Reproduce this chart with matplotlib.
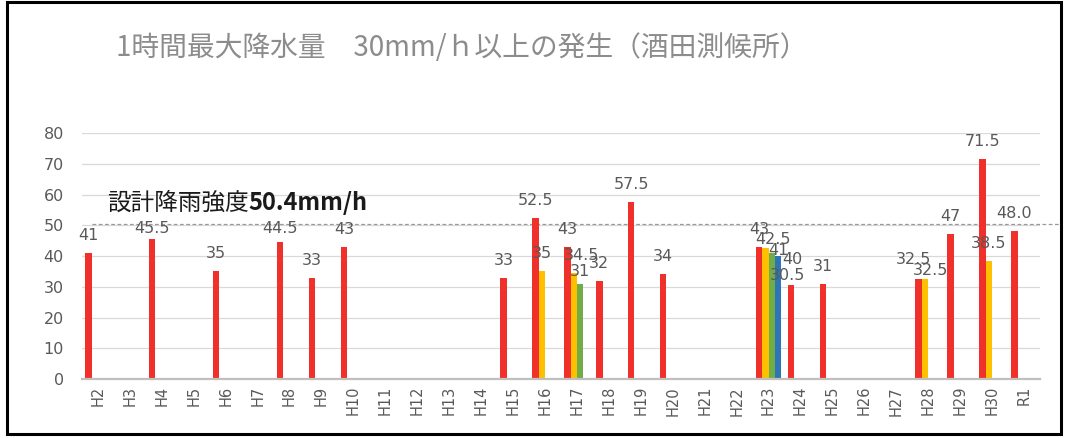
import numpy as np
import matplotlib
matplotlib.use("Agg")
import matplotlib.pyplot as plt
from matplotlib.patches import Rectangle
from matplotlib.transforms import blended_transform_factory, offset_copy

plt.rcParams['font.family'] = ['DejaVu Sans']
JP = ['Noto Sans CJK JP', 'DejaVu Sans']

# 年度 (平成2年〜令和元年)
categories = ['H%d' % i for i in range(2, 31)] + ['R1']

# 年度ごとの1時間最大降水量 (mm/h), 30mm/h以上の回のみ
rain_1st = {'H2': 41, 'H4': 45.5, 'H6': 35, 'H8': 44.5, 'H9': 33, 'H10': 43,
            'H15': 33, 'H16': 52.5, 'H17': 43, 'H18': 32, 'H19': 57.5, 'H20': 34,
            'H23': 43, 'H24': 30.5, 'H25': 31, 'H28': 32.5, 'H29': 47,
            'H30': 71.5, 'R1': 48.0}
rain_2nd = {'H16': 35, 'H17': 34.5, 'H23': 42.5, 'H28': 32.5, 'H30': 38.5}
rain_3rd = {'H17': 31, 'H23': 41}
rain_4th = {'H23': 40}

design_intensity = 50.4

series = [rain_1st, rain_2nd, rain_3rd, rain_4th]
colors = ['#F0302A', '#FFC000', '#70AD47', '#2E75B6']

# ラベルの手動微調整 (px)
label_nudge = {
    ('H4', 0): (0, -7), ('H8', 0): (0, -4),
    ('H17', 1): (8, 0), ('H17', 2): (0, -5),
    ('H23', 1): (8, -9), ('H23', 2): (7, -15), ('H23', 3): (14, -21),
    ('H24', 0): (-3, -8),
    ('H28', 0): (-5, 2), ('H28', 1): (5, -9),
}

fig = plt.figure(figsize=(10.68, 4.38), dpi=100)
ax = fig.add_axes([0.0768, 0.1347, 0.897, 0.5616])

x = np.arange(len(categories))
w = 0.2
for k, (data, c) in enumerate(zip(series, colors)):
    vals = np.array([data.get(cat, np.nan) for cat in categories], dtype=float)
    pos = x + (k - 1.5) * w
    ax.bar(pos, np.nan_to_num(vals), width=w, color=c, zorder=3)
    for cat, p, v in zip(categories, pos, vals):
        if np.isnan(v):
            continue
        txt = f"{v:.1f}" if cat == 'R1' else f"{v:g}"
        dx, dy = label_nudge.get((cat, k), (0, 0))
        tr = offset_copy(ax.transData, fig=fig, x=dx, y=10 + dy, units='dots')
        ax.text(p, v, txt, transform=tr, ha='center', va='bottom',
                fontsize=11.5, color='#595959', zorder=4)

ax.set_xlim(-0.5, len(categories) - 0.5)
ax.set_ylim(0, 80)
ax.set_yticks(range(0, 81, 10))
ax.set_xticks(x)
ax.set_xticklabels(categories, rotation=90)
ax.tick_params(axis='x', length=0, pad=5, labelsize=10.5, labelcolor='#595959')
ax.tick_params(axis='y', length=0, pad=13, labelsize=11.5, labelcolor='#595959')
ax.grid(axis='y', color='#D9D9D9', linewidth=0.9, zorder=0)
for s in ['top', 'right', 'left']:
    ax.spines[s].set_visible(False)
ax.spines['bottom'].set_color('#BFBFBF')
ax.spines['bottom'].set_linewidth(1.6)
ax.spines['bottom'].set_zorder(5)

# 設計降雨強度の破線 (軸の右外まで延ばす)
trans = blended_transform_factory(ax.transAxes, ax.transData)
ax.plot([0.0104, 1.023], [design_intensity, design_intensity], transform=trans,
        color='#9A9A9A', linestyle=(0, (3, 2)), linewidth=0.9, clip_on=False, zorder=2)

t1 = ax.text(0.026, design_intensity + 3.0, '設計降雨強度', transform=trans,
             family=JP, fontsize=17, color='#1a1a1a', va='bottom', ha='left')
ax.annotate(f'{design_intensity}mm/h', xy=(1, 0), xycoords=t1, va='bottom', ha='left',
            family=JP, fontsize=17, fontweight='bold', color='#1a1a1a')

fig.text(0.432, 0.89, '1時間最大降水量　30mm/ｈ以上の発生（酒田測候所）',
         family=JP, fontsize=20, color='#8C8C8C', ha='center', va='center')

# 外枠
fig.patches.append(Rectangle((7 / 1068, 4 / 438), 1054 / 1068, 432 / 438,
                             transform=fig.transFigure, fill=False,
                             edgecolor='black', linewidth=2.2))

fig.savefig('out.png', dpi=100)
